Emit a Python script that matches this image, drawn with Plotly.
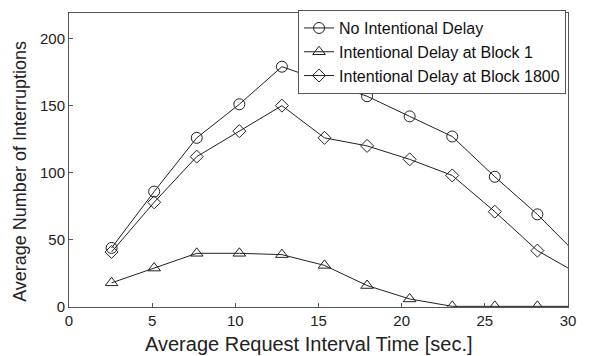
import plotly.graph_objects as go

x_vals = [2.56, 5.12, 7.68, 10.24, 12.8, 15.36, 17.92, 20.48, 23.04, 25.6, 28.16, 30.72]
no_delay = [44, 86, 126, 151, 179, 168, 157, 142, 127, 97, 69, 37]
delay_block1 = [18, 29, 40, 40, 39, 31, 16, 6, 0.5, 0.5, 0.5, 0.5]
delay_block1800 = [41, 78, 112, 131, 150, 126, 120, 110, 98, 71, 42, 24]

names = ["No Intentional Delay", "Intentional Delay at Block 1", "Intentional Delay at Block 1800"]
symbols = ["circle-open", "triangle-up-open", "diamond-open"]
sizes = [11, 11, 10]
series = [no_delay, delay_block1, delay_block1800]

FONT = "Liberation Sans"

fig = go.Figure()
for name, ys, sym, sz in zip(names, series, symbols, sizes):
    fig.add_trace(go.Scatter(
        x=x_vals, y=ys, mode="lines+markers", name=name,
        line=dict(color="#222222", width=1),
        marker=dict(symbol=sym, size=sz, color="#222222", line=dict(width=1, color="#222222")),
        cliponaxis=True,
    ))

fig.update_layout(
    width=589, height=356,
    margin=dict(l=69, r=21, t=10, b=49),
    plot_bgcolor="white", paper_bgcolor="white",
    font=dict(family=FONT, color="#222222"),
    showlegend=True,
    legend=dict(
        x=0.459, y=1.01, xanchor="left", yanchor="top",
        bgcolor="white", bordercolor="#555555", borderwidth=1,
        font=dict(size=16, family=FONT, color="#111111"),
        itemwidth=30, tracegroupgap=0,
    ),
    annotations=[
        dict(text="Average Request Interval Time [sec.]", xref="paper", yref="paper",
             x=0.48, y=-0.1246, xanchor="center", yanchor="middle", showarrow=False,
             font=dict(size=20, family=FONT, color="#222222")),
        dict(text="Average Number of Interruptions", xref="paper", yref="paper",
             x=-0.098, y=0.46, xanchor="center", yanchor="middle", showarrow=False,
             textangle=-90, font=dict(size=18, family=FONT, color="#222222")),
    ],
)
fig.update_xaxes(
    range=[0, 30], tickvals=[0, 5, 10, 15, 20, 25, 30],
    ticks="inside", ticklen=4, tickcolor="#555555",
    showline=True, linecolor="#555555", linewidth=1, mirror=True,
    showgrid=False, zeroline=False,
    tickfont=dict(size=15, family=FONT),
)
fig.update_yaxes(
    range=[0, 219], tickvals=[0, 50, 100, 150, 200],
    ticks="inside", ticklen=4, tickcolor="#555555",
    showline=True, linecolor="#555555", linewidth=1, mirror=True,
    showgrid=False, zeroline=False,
    tickfont=dict(size=15, family=FONT),
)

fig.write_html("out.html")
